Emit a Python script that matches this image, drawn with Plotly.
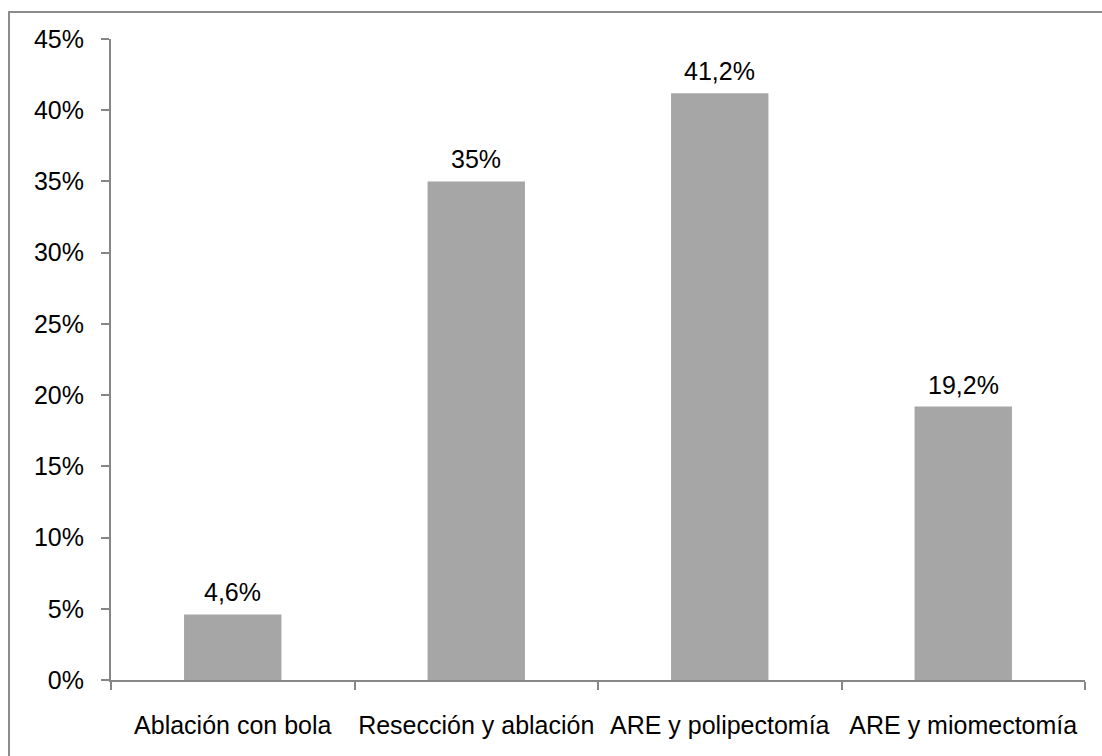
import plotly.graph_objects as go

categories = ["Ablación con bola", "Resección y ablación", "ARE y polipectomía", "ARE y miomectomía"]
values = [4.6, 35, 41.2, 19.2]
y_ticks = [0, 5, 10, 15, 20, 25, 30, 35, 40, 45]
y_tick_labels = [f"{t}%" for t in y_ticks]


def pct_label(v):
    s = f"{v:g}".replace(".", ",")
    return s + "%"


W, H = 1102, 756
L, R, T, B = 111, 17, 39, 76
pw, ph = W - L - R, H - T - B

FONT = "Liberation Sans, Arial, sans-serif"
FS = 25
AXIS_COLOR = "#868686"

fig = go.Figure(
    go.Bar(
        x=categories,
        y=values,
        marker=dict(color="#A6A6A6", line=dict(width=0)),
        cliponaxis=False,
        width=0.4,
    )
)

# value labels above each bar
for c, v in zip(categories, values):
    fig.add_annotation(
        x=c, y=v, text=pct_label(v), showarrow=False,
        xanchor="center", yanchor="bottom", yshift=6,
        font=dict(family=FONT, size=FS, color="#000000"),
    )

fig.update_layout(
    width=W,
    height=H,
    margin=dict(l=L, r=R, t=T, b=B, pad=0, autoexpand=False),
    paper_bgcolor="white",
    plot_bgcolor="white",
    showlegend=False,
    font=dict(family=FONT, size=FS, color="#000000"),
    xaxis=dict(
        showline=True,
        linecolor=AXIS_COLOR,
        linewidth=2,
        ticks="outside",
        tickson="boundaries",
        ticklen=8,
        tickwidth=2,
        tickcolor=AXIS_COLOR,
        showgrid=False,
        tickangle=0,
        automargin=False,
        ticklabelstandoff=22,
        tickfont=dict(family=FONT, size=FS, color="#000000"),
        range=[-0.5, 3.5],
    ),
    yaxis=dict(
        range=[0, 45],
        tickvals=y_ticks,
        ticktext=y_tick_labels,
        showline=True,
        linecolor=AXIS_COLOR,
        linewidth=2,
        ticks="outside",
        ticklen=8,
        tickwidth=2,
        tickcolor=AXIS_COLOR,
        showgrid=False,
        zeroline=False,
        automargin=False,
        ticklabelstandoff=12,
        tickfont=dict(family=FONT, size=FS, color="#000000"),
    ),
    shapes=[
        dict(
            type="rect",
            xref="paper",
            yref="paper",
            x0=(9 - L) / pw,
            x1=(W + 20 - L) / pw,
            y0=1 + (T - 12) / ph,
            y1=-(B + 20) / ph,
            line=dict(color="#8C8C8C", width=2),
            fillcolor="rgba(0,0,0,0)",
            layer="below",
        )
    ],
)

fig.write_html("out.html")
